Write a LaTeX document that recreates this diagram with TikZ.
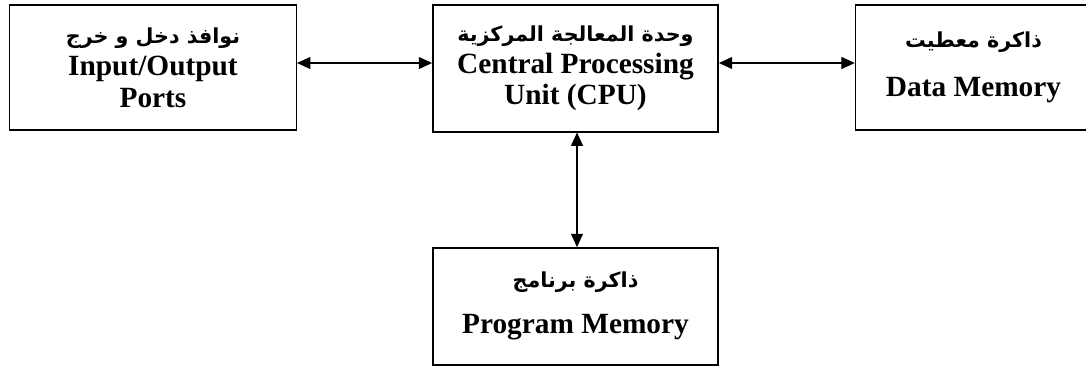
\documentclass[tikz,border=0pt]{standalone}
\usepackage{fontspec}
\setmainfont{Liberation Serif}
\newfontfamily\arabicfont[Script=Arabic]{DejaVu Sans}
\TeXXeTstate=1
\usetikzlibrary{arrows.meta}
\tikzset{
  block/.style={draw, line width=1.1pt, align=center, inner sep=0pt,
    font=\fontsize{22}{23}\selectfont\bfseries},
  link/.style={<->, line width=0.8pt},
}
\newcommand{\ar}[1]{{\arabicfont\fontsize{15.5}{17}\selectfont\bfseries\beginR #1\endR}}
\begin{document}
\begin{tikzpicture}[x=0.75pt,y=0.75pt,>={Triangle[length=10pt,width=9pt]}]
\useasboundingbox (0,0) rectangle (1086,372);
% blocks
\node[block, minimum width=215pt, minimum height=94pt] (io) at (153,304.5)
  {\ar{نوافذ دخل و خرج}\\[1pt] Input/Output\\[1pt] Ports};
\node[block, minimum width=214pt, minimum height=95pt] (cpu) at (575.5,303.5)
  {\ar{وحدة المعالجة المركزية}\\[1pt] Central Processing\\ Unit (CPU)};
\node[block, minimum width=177pt, minimum height=94pt] (data) at (973.5,304.5)
  {\ar{ذاكرة معطيت}\\[14pt] Data Memory};
\node[block, minimum width=214pt, minimum height=88pt, text depth=6pt] (prog) at (575.5,65.5)
  {\ar{ذاكرة برنامج}\\[12pt] Program Memory};
% connections
\draw[link] (io.east |- 0,309) -- (cpu.west |- 0,309);
\draw[link] (cpu.east |- 0,309) -- (data.west |- 0,309);
\draw[link] (cpu.south -| 577,0) -- (prog.north -| 577,0);
\end{tikzpicture}
\end{document}
